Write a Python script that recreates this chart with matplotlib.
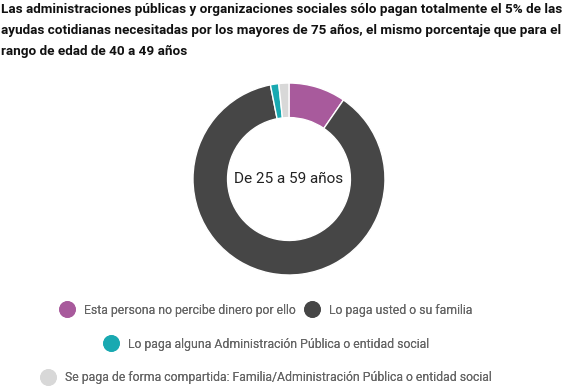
import matplotlib.pyplot as plt
from matplotlib.lines import Line2D

# Data
labels = ["Esta persona no percibe dinero por ello",
          "Lo paga usted o su familia",
          "Lo paga alguna Administración Pública o entidad social",
          "Se paga de forma compartida: Familia/Administración Pública o entidad social"]
values = [9.6, 87.3, 1.4, 1.7]
colors = ["#a85a9c", "#464646", "#19a9b1", "#d8d8d8"]
center_label = "De 25 a 59 años"
title = ("Las administraciones públicas y organizaciones sociales sólo pagan totalmente el 5% de las\n"
         "ayudas cotidianas necesitadas por los mayores de 75 años, el mismo porcentaje que para el\n"
         "rango de edad de 40 a 49 años")

plt.rcParams['font.family'] = ['Roboto', 'DejaVu Sans']

fig = plt.figure(figsize=(5.63, 3.88), dpi=100)
fig.patch.set_facecolor("white")

fig.text(0.002, 0.993, title, ha="left", va="top", fontsize=9.7, fontweight="bold",
         color="#111111", linespacing=1.8)

ax = fig.add_axes([0.3428, 0.2912, 0.341, 0.4948])
ax.pie(values, colors=colors, startangle=90, counterclock=False, radius=1,
       wedgeprops=dict(width=0.36, edgecolor="white", linewidth=1))
ax.set_xlim(-1, 1)
ax.set_ylim(-1, 1)
ax.set_aspect("equal")
ax.axis("off")
ax.text(0, 0, center_label, ha="center", va="center", fontsize=11, color="#222222")

def handle(c):
    return Line2D([], [], marker="o", linestyle="none", markersize=11,
                  markerfacecolor=c, markeredgecolor=c)

rows = [([0, 1], 0.201), ([2], 0.113), ([3], 0.026)]
for idx, y in rows:
    leg = fig.legend([handle(colors[i]) for i in idx], [labels[i] for i in idx],
                     loc="center", bbox_to_anchor=(0.474, y), ncol=len(idx),
                     frameon=False, fontsize=8.85, handletextpad=0.9,
                     columnspacing=0.8, handlelength=1.0)
    for t in leg.get_texts():
        t.set_color("#666666")
    fig.add_artist(leg)

fig.savefig("out.png", dpi=100)
